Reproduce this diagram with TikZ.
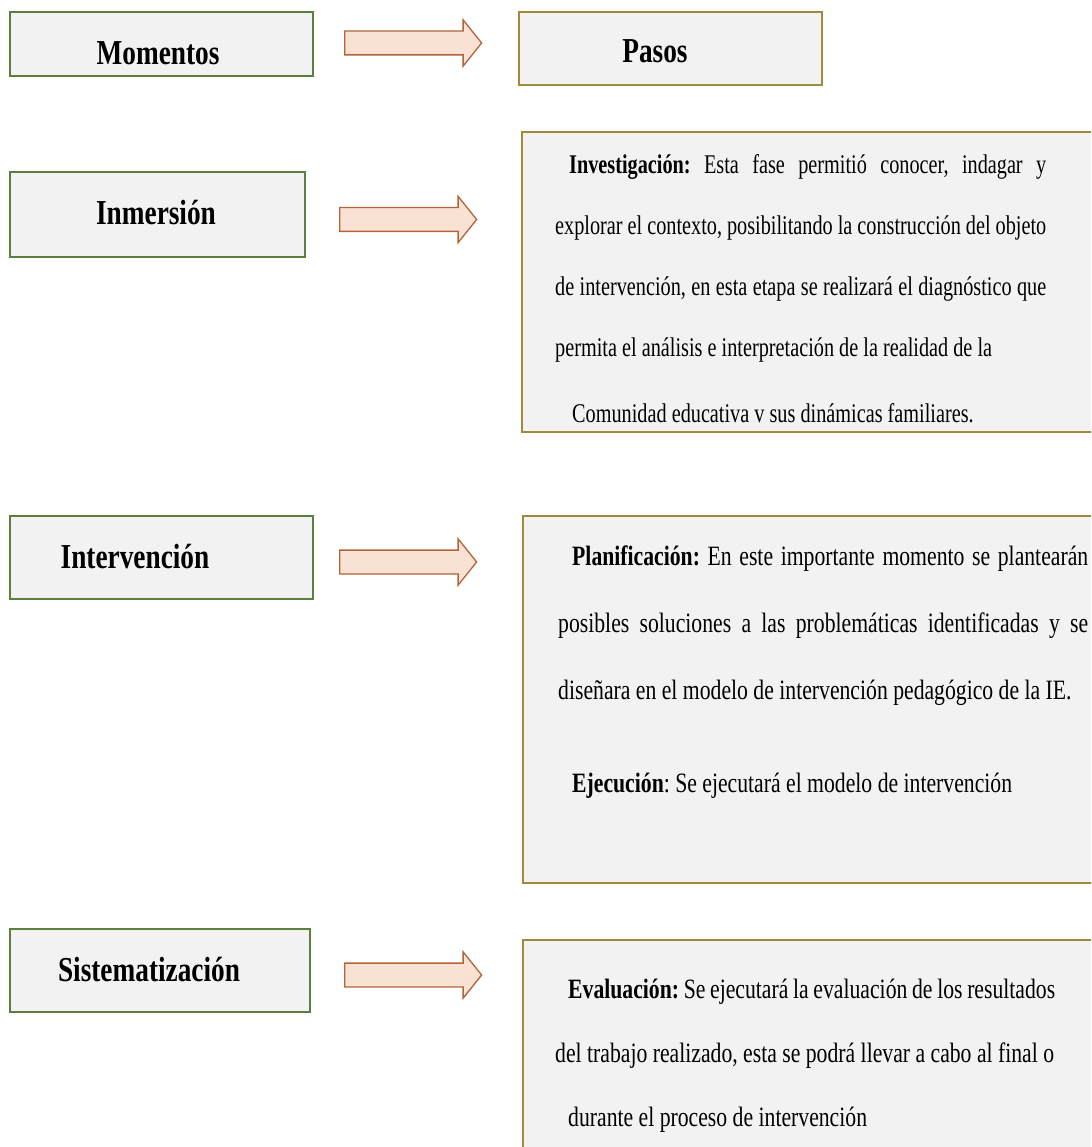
\documentclass[tikz,border=0pt]{standalone}
\usepackage{fontspec}
\setmainfont{Liberation Serif}
\newfontfamily\headfont{Liberation Serif}[FakeStretch=0.78]
\newfontfamily\bodyfont{Liberation Serif}[FakeStretch=0.775]
\newfontfamily\invfont{Liberation Serif}[FakeStretch=0.75]
\usetikzlibrary{shapes.arrows}
\setlength\parindent{0pt}
\frenchspacing

\definecolor{cajafondo}{HTML}{F2F2F2}
\definecolor{bordeverde}{HTML}{5B7F3E}
\definecolor{bordeoro}{HTML}{A28A3C}
\definecolor{flechafondo}{HTML}{F9E1D3}
\definecolor{flechaborde}{HTML}{B0653A}

\tikzset{
  momento/.style={draw=bordeverde, fill=cajafondo, line width=1.3pt, inner sep=0pt},
  paso/.style={draw=bordeoro, fill=cajafondo, line width=1.5pt, inner sep=0pt},
  titulo/.style={font=\headfont\bfseries\fontsize{35}{38}\selectfont, anchor=base, inner sep=0pt},
  flecha/.style={single arrow, draw=flechaborde, fill=flechafondo, line width=1.3pt,
    text height=11.25pt, text depth=11.25pt, minimum height=137pt,
    single arrow head extend=11.25pt, single arrow tip angle=102.7,
    inner sep=0pt, anchor=tail},
  cuerpo/.style={anchor=base west, inner sep=0pt, align=justify},
}

\begin{document}
\begin{tikzpicture}[x=1pt, y=-1pt]
    \useasboundingbox (0,0) rectangle (1091,1147);
    \clip (0,0) rectangle (1091,1147);

    % columna de momentos
    \node[momento, minimum width=303pt, minimum height=64pt] (momentos) at (161.5,44) {};
    \node[momento, minimum width=295pt, minimum height=85pt] (inmersion) at (157.5,214.5) {};
    \node[momento, minimum width=303pt, minimum height=83pt] (intervencion) at (161.5,557.5) {};
    \node[momento, minimum width=300pt, minimum height=83pt] (sistematizacion) at (160,970.5) {};

    \node[titulo] (t-momentos) at (158,65) {Momentos};
    \node[titulo] (t-inmersion) at (156,225) {Inmersión};
    \node[titulo] (t-intervencion) at (135,568) {Intervención};
    \node[titulo] (t-sistematizacion) at (149,981) {Sistematización};

    % flechas
    \foreach \x/\y/\n in {344/43/1, 339/219.5/2, 339/562/3, 344/975/4}
        \node[flecha] (flecha\n) at (\x,\y) {};

    % columna de pasos
    \node[paso, minimum width=303pt, minimum height=73pt] (pasos) at (670.5,48.5) {};
    \node[titulo] (t-pasos) at (655,63) {Pasos};

    \node[paso, minimum width=590pt, minimum height=300pt] (investigacion) at (817,282) {};
    \node[paso, minimum width=590pt, minimum height=367pt] (planificacion) at (818,699.5) {};
    \node[paso, minimum width=590pt, minimum height=240pt] (evaluacion) at (818,1060) {};

    \node[cuerpo, text width=491pt, font=\invfont\fontsize{27}{61}\selectfont] (t-investigacion) at (555,174)
        {\hspace*{14pt}\textbf{Investigación:} Esta fase permitió conocer, indagar y\linebreak
         explorar el contexto, posibilitando la construcción del objeto\linebreak
         de intervención, en esta etapa se realizará el diagnóstico que\linebreak
         permita el análisis e interpretación de la realidad de la\\[5pt]
         \hspace*{17pt}Comunidad educativa v sus dinámicas familiares.};

    \node[cuerpo, text width=530pt, font=\bodyfont\fontsize{28}{67}\selectfont] (t-planificacion) at (558,565)
        {\hspace*{14pt}\textbf{Planificación:} En este importante momento se plantearán\linebreak
         posibles soluciones a las problemáticas identificadas y se\linebreak
         diseñara en el modelo de intervención pedagógico de la IE.\\[26pt]
         \hspace*{14pt}\textbf{Ejecución}: Se ejecutará el modelo de intervención};

    \node[cuerpo, text width=500pt, font=\bodyfont\fontsize{28}{64}\selectfont] (t-evaluacion) at (555,998)
        {\hspace*{13pt}\textbf{Evaluación:} Se ejecutará la evaluación de los resultados\\
         del trabajo realizado, esta se podrá llevar a cabo al final o\\
         \hspace*{13pt}durante el proceso de intervención};
\end{tikzpicture}
\end{document}
